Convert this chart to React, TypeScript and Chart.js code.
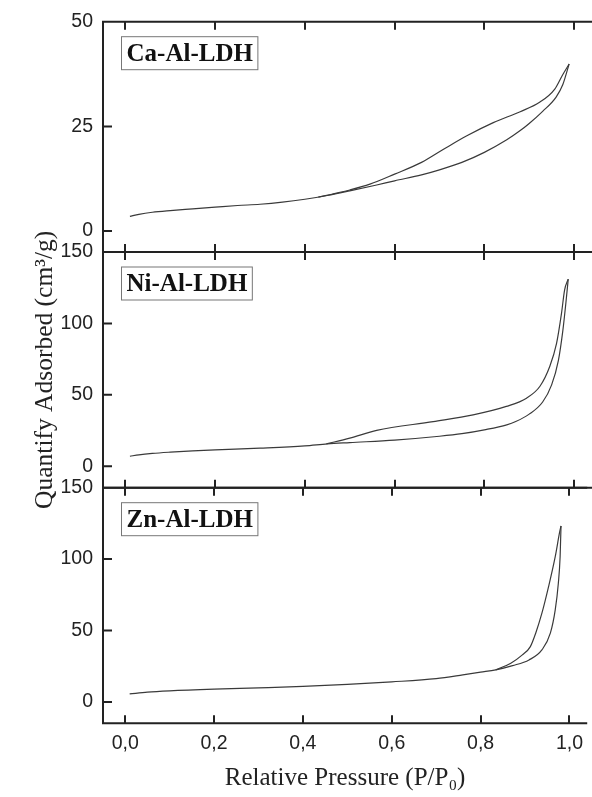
import React, { useEffect, useRef } from 'react';
import { Chart, registerables } from 'chart.js';

Chart.register(...registerables);

// ---------- data ----------
const xTickValues = [0, 0.2, 0.4, 0.6, 0.8, 1.0];
const sampleNames = ['Ca-Al-LDH', 'Ni-Al-LDH', 'Zn-Al-LDH'];
const caTicks = [0, 25, 50];
const niTicks = [0, 50, 100, 150];
const znTicks = [0, 50, 100, 150];

// Ca-Al-LDH
const caAdsP = [0.01, 0.03, 0.06, 0.1, 0.15, 0.2, 0.25, 0.3, 0.35, 0.4, 0.45, 0.5, 0.56, 0.6, 0.66, 0.7, 0.75, 0.8, 0.85, 0.88, 0.9, 0.93, 0.96, 0.975, 0.989];
const caAdsV = [3.5, 4.0, 4.5, 4.9, 5.3, 5.7, 6.1, 6.4, 6.9, 7.6, 8.5, 9.6, 11.0, 12.0, 13.4, 14.6, 16.4, 18.8, 21.8, 24.0, 25.7, 28.6, 32.0, 35.0, 39.9];
const caDesP = [0.43, 0.46, 0.5, 0.545, 0.6, 0.66, 0.71, 0.76, 0.82, 0.88, 0.924, 0.957, 0.975, 0.989];
const caDesV = [8.1, 8.8, 9.8, 11.2, 13.6, 16.4, 19.6, 22.7, 25.9, 28.5, 30.8, 33.9, 37.4, 39.9];

// Ni-Al-LDH
const niAdsP = [0.01, 0.03, 0.06, 0.1, 0.15, 0.2, 0.3, 0.4, 0.45, 0.5, 0.6, 0.7, 0.75, 0.8, 0.85, 0.87, 0.9, 0.93, 0.95, 0.965, 0.975, 0.982, 0.987];
const niAdsV = [7, 8, 9, 9.9, 10.8, 11.5, 12.7, 14.3, 15.7, 16.6, 18.3, 21, 22.8, 25.5, 29, 31.3, 36.5, 45, 57, 74, 95, 115, 131];
const niDesP = [0.448, 0.5, 0.56, 0.686, 0.775, 0.849, 0.894, 0.924, 0.946, 0.961, 0.972, 0.979, 0.987];
const niDesV = [15.7, 19.7, 25.1, 31.3, 36, 41.9, 47.7, 56, 70, 86, 107, 123.5, 131];

// Zn-Al-LDH
const znAdsP = [0.01, 0.05, 0.1, 0.2, 0.3, 0.4, 0.5, 0.6, 0.7, 0.76, 0.8, 0.834, 0.872, 0.909, 0.938, 0.957, 0.968, 0.975, 0.979, 0.981];
const znAdsV = [5.6, 6.8, 7.7, 8.9, 9.8, 10.8, 12.2, 14.0, 16.3, 18.9, 20.8, 22.4, 25.4, 29.4, 36.4, 48.1, 64.4, 83.1, 101.7, 123.2];
const znDesP = [0.834, 0.868, 0.894, 0.912, 0.924, 0.938, 0.953, 0.968, 0.978, 0.981];
const znDesV = [22.4, 27.1, 32.9, 38.7, 48.1, 62.1, 80.7, 101.7, 119, 123.2];

// ---------- layout ----------
const W = 592;
const H = 797;
const PLOT_LEFT = 103;
const panelTop = [16, 252, 487.7];
const panelBottom = [252, 487.7, 723.3];
const yRanges = [[-5, 50], [-15, 150], [-15, 150]];

const LINE = '#3a3a3a';
const AXIS = '#222';
const SANS = '"Liberation Sans", Arial, Helvetica, sans-serif';
const SERIF = '"Liberation Serif", "Times New Roman", Times, serif';

const toPts = (xs: number[], ys: number[]) => xs.map((x, i) => ({ x, y: ys[i] }));

const framePlugin = {
  id: 'panelFrame',
  afterDraw(chart: any, _args: any, opts: any) {
    const { ctx, chartArea: ca, scales } = chart;
    const xs = scales.x;
    const ys = scales.y;
    ctx.save();
    ctx.strokeStyle = AXIS;
    ctx.lineWidth = 2;
    ctx.beginPath();
    ctx.moveTo(ca.left, ca.top);
    ctx.lineTo(ca.right, ca.top);
    ctx.moveTo(ca.left, ca.bottom);
    ctx.lineTo(ca.right, ca.bottom);
    ctx.moveTo(ca.left, ca.top - 1);
    ctx.lineTo(ca.left, ca.bottom + 1);
    for (const t of xTickValues) {
      const px = Math.round(xs.getPixelForValue(t));
      ctx.moveTo(px, ca.top);
      ctx.lineTo(px, ca.top + 8);
      ctx.moveTo(px, ca.bottom);
      ctx.lineTo(px, ca.bottom - 8);
    }
    for (const t of opts.yTicks as number[]) {
      const py = ys.getPixelForValue(t);
      ctx.moveTo(ca.left, py);
      ctx.lineTo(ca.left + 9, py);
    }
    ctx.stroke();

    // sample label box
    ctx.font = `bold 25px ${SERIF}`;
    const tw = ctx.measureText(opts.name).width;
    const bx = ca.left + 18;
    const by = ca.top + 14.5;
    const bh = 33;
    ctx.lineWidth = 1;
    ctx.strokeStyle = '#777';
    ctx.strokeRect(bx + 0.5, by + 0.5, tw + 10, bh);
    ctx.fillStyle = '#111';
    ctx.textBaseline = 'middle';
    ctx.textAlign = 'left';
    ctx.fillText(opts.name, bx + 5.5, by + bh / 2 + 1.5);
    ctx.restore();
  },
};

function makeConfig(idx: number): any {
  const ads = [toPts(caAdsP, caAdsV), toPts(niAdsP, niAdsV), toPts(znAdsP, znAdsV)][idx];
  const des = [toPts(caDesP, caDesV), toPts(niDesP, niDesV), toPts(znDesP, znDesV)][idx];
  const yTicks = [caTicks, niTicks, znTicks][idx];
  const isBottom = idx === 2;
  const isMiddle = idx === 1;
  const lineDs = (label: string, data: any[]) => ({
    label,
    data,
    borderColor: LINE,
    borderWidth: 1.2,
    pointRadius: 0,
    fill: false,
    cubicInterpolationMode: 'monotone',
  });
  return {
    type: 'line',
    data: {
      datasets: [lineDs('Adsorption', ads), lineDs('Desorption', des)],
    },
    plugins: [framePlugin],
    options: {
      animation: false,
      responsive: false,
      events: [],
      layout: {
        padding: {
          left: 0,
          right: 0,
          top: panelTop[idx],
          bottom: isBottom ? 0 : H - panelBottom[idx],
        },
      },
      plugins: {
        legend: { display: false },
        tooltip: { enabled: false },
        title: { display: false },
        panelFrame: { yTicks, name: sampleNames[idx] },
      },
      scales: {
        x: {
          type: 'linear',
          min: -0.05,
          max: 1.04,
          display: isBottom,
          grid: { display: false, drawTicks: false },
          border: { display: false },
          afterBuildTicks: (s: any) => {
            s.ticks = xTickValues.map((v) => ({ value: v }));
          },
          afterFit: (s: any) => {
            if (isBottom) s.height = H - panelBottom[2];
          },
          ticks: {
            color: AXIS,
            font: { family: SANS, size: 19.5 },
            padding: 9,
            maxRotation: 0,
            autoSkip: false,
            callback: (v: any) => Number(v).toFixed(1).replace('.', ','),
          },
          title: {
            display: isBottom,
            text: 'Relative Pressure (P/P\u2080)',
            color: AXIS,
            font: { family: SERIF, size: 25 },
            padding: { top: 0, bottom: 4 },
          },
        },
        y: {
          type: 'linear',
          min: yRanges[idx][0],
          max: yRanges[idx][1],
          grid: { display: false, drawTicks: false },
          border: { display: false },
          afterBuildTicks: (s: any) => {
            s.ticks = yTicks.map((v) => ({ value: v }));
          },
          afterFit: (s: any) => {
            s.width = PLOT_LEFT;
          },
          ticks: {
            color: AXIS,
            font: { family: SANS, size: 19.5 },
            padding: 10,
            autoSkip: false,
          },
          title: {
            display: isMiddle,
            text: 'Quantify Adsorbed (cm\u00B3/g)',
            color: AXIS,
            font: { family: SERIF, size: 25.5 },
            padding: { top: 30, bottom: 0 },
          },
        },
      },
    },
  };
}

export default function App() {
  const r0 = useRef<HTMLCanvasElement>(null);
  const r1 = useRef<HTMLCanvasElement>(null);
  const r2 = useRef<HTMLCanvasElement>(null);

  useEffect(() => {
    const refs = [r0, r1, r2];
    const charts = refs.map((r, i) => new Chart(r.current as HTMLCanvasElement, makeConfig(i)));
    return () => charts.forEach((c) => c.destroy());
  }, []);

  const cStyle: React.CSSProperties = { position: 'absolute', left: 0, top: 0, width: W, height: H };
  return (
    <div style={{ position: 'absolute', left: 0, top: 0, width: W, height: H, background: '#fff', overflow: 'hidden' }}>
      <canvas ref={r0} width={W} height={H} style={cStyle} />
      <canvas ref={r1} width={W} height={H} style={cStyle} />
      <canvas ref={r2} width={W} height={H} style={cStyle} />
    </div>
  );
}
